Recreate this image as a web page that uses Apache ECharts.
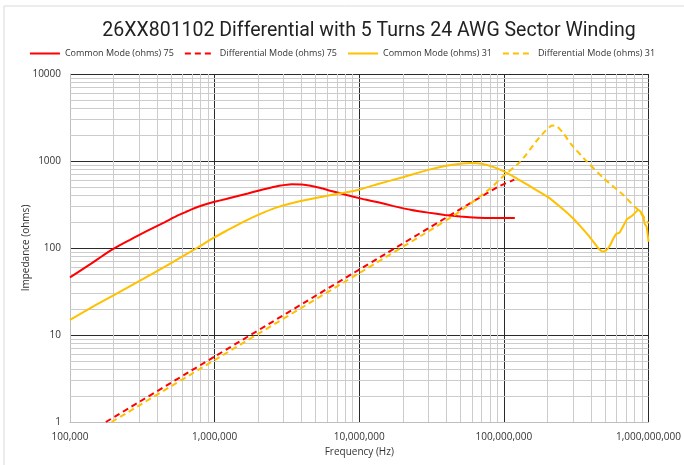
<!DOCTYPE html>
<html><head><meta charset="utf-8">
<script src="https://cdn.jsdelivr.net/npm/echarts@6/dist/echarts.min.js"></script>
<style>html,body{margin:0;padding:0;background:#fff}#c{width:684px;height:465px}</style>
</head><body><div id="c"></div>
<script>
var titleText = '26XX801102 Differential with 5 Turns 24 AWG Sector Winding';
var seriesNames = ['Common Mode (ohms) 75','Differential Mode (ohms) 75','Common Mode (ohms) 31','Differential Mode (ohms) 31'];

var cm75 = [[1e5,46],[1.4e5,66],[1.8e5,88],[2.2e5,107],[2.6e5,124],[3e5,141],[3.7e5,168],[4.57e5,200],[5.4e5,231],[6.3e5,259],[7e5,280],[7.7e5,298],[8.8e5,320],[1e6,340],[1.2e6,366],[1.4e6,390],[1.7e6,424],[2e6,456],[2.4e6,490],[2.8e6,518],[3.4e6,540],[4e6,537],[4.6e6,520],[5.4e6,490],[6.3e6,456],[7.4e6,425],[9e6,390],[1.1e7,360],[1.35e7,335],[1.7e7,305],[2.3e7,273],[3e7,255],[3.9e7,240],[5e7,230],[6.6e7,223],[8.5e7,221],[1.19e8,221]];
var dm75 = [[1.77e5,1],[1e6,5.65],[1e7,56.5],[1.35e7,76],[5e7,280],[9e7,500],[1.18e8,610]];
var cm31 = [[1e5,14.9],[1.5e5,22],[2.7e5,37.6],[5e5,67],[7.7e5,102],[1e6,133],[1.2e6,157],[1.4e6,180],[1.7e6,212],[2e6,240],[2.6e6,287],[3.4e6,327],[4.9e6,373],[7.4e6,425],[9.8e6,464],[1.35e7,545],[2e7,650],[3e7,790],[4e7,880],[5e7,930],[5.9e7,950],[7e7,930],[8.5e7,850],[1e8,760],[1.25e8,620],[1.53e8,507],[2e8,389],[2.6e8,273],[3e8,220],[3.4e8,176],[3.9e8,135],[4.4e8,104],[4.7e8,93],[4.9e8,91],[5.1e8,94],[5.4e8,106],[5.7e8,128],[6e8,146],[6.3e8,150],[6.7e8,180],[7.1e8,215],[7.4e8,225],[7.8e8,240],[8.5e8,273],[8.8e8,262],[9.2e8,229],[9.4e8,190],[9.7e8,176],[1e9,118]];
var dm31 = [[1.94e5,1],[1e6,5.15],[1e7,51.5],[3e7,155],[5e7,265],[8e7,480],[1e8,680],[1.3e8,982],[1.7e8,1740],[1.95e8,2250],[2.15e8,2560],[2.33e8,2510],[2.6e8,2050],[2.88e8,1597],[3.75e8,982],[4.9e8,632],[6.7e8,406],[8e8,299],[8.5e8,275],[9.4e8,219],[1e9,192]];

var xDecades = [1e5,1e6,1e7,1e8];
var yDecades = [1,10,100,1000];
var minorMult = [2,3,4,5,6,7,8,9];

var minorLines = [];
xDecades.forEach(function(d){ minorMult.forEach(function(m){ minorLines.push({xAxis: d*m}); }); });
yDecades.forEach(function(d){ minorMult.forEach(function(m){ minorLines.push({yAxis: d*m}); }); });

var RED = '#ff0000', YEL = '#ffc000';
function mk(name, data, color, dashed){
  return {name:name, type:'line', data:data, smooth:0.15, symbol:'none', showSymbol:false, z:5,
    lineStyle:{color:color, width:2, type: dashed ? [6,4] : 'solid'}, itemStyle:{color:color}};
}

var chart = echarts.init(document.getElementById('c'), null, {renderer:'canvas'});
chart.setOption({
  animation:false,
  backgroundColor:'#fff',
  title:{text:titleText, left:364, textAlign:'center', top:16,
    textStyle:{fontFamily:'Roboto', fontSize:19.5, fontWeight:'normal', color:'#222'}},
  legend:{top:44, left:'center', itemWidth:30, itemHeight:3, itemGap:10,
    itemStyle:{opacity:0},
    textStyle:{fontFamily:'Open Sans', fontSize:9, color:'#333'},
    data: seriesNames},
  grid:{left:70, right:32, top:74, bottom:43, containLabel:false},
  graphic:[{type:'rect', shape:{x:4, y:6, width:700, height:480}, style:{fill:'none', stroke:'#d9d9d9', lineWidth:1}, z:-1}],
  xAxis:{type:'log', logBase:10, min:1e5, max:1e9,
    name:'Frequency (Hz)', nameLocation:'middle', nameGap:25, nameMoveOverlap:false,
    nameTextStyle:{fontFamily:'Open Sans', fontSize:10, color:'#333'},
    axisLine:{show:true, lineStyle:{color:'#bfbfbf', width:1}},
    axisTick:{show:false},
    axisLabel:{fontFamily:'Open Sans', fontSize:10, color:'#333', margin:10,
      formatter:function(v){ return Math.round(v).toLocaleString('en-US'); }},
    splitLine:{show:true, showMinLine:false, lineStyle:{color:'#2a2a2a', width:1}}},
  yAxis:{type:'log', logBase:10, min:1, max:10000,
    name:'Impedance (ohms)', nameLocation:'middle', nameGap:39, nameMoveOverlap:false,
    nameTextStyle:{fontFamily:'Open Sans', fontSize:10, color:'#333'},
    axisLine:{show:true, lineStyle:{color:'#bfbfbf', width:1}},
    axisTick:{show:false},
    axisLabel:{fontFamily:'Open Sans', fontSize:10, color:'#333', margin:9,
      formatter:function(v){ return String(Math.round(v)); }},
    splitLine:{show:true, showMinLine:false, lineStyle:{color:'#2a2a2a', width:1}}},
  series:[
    {name:'grid', type:'line', data:[], z:1, silent:true,
      markLine:{silent:true, symbol:['none','none'], label:{show:false}, animation:false,
        lineStyle:{color:'#cccccc', width:1, type:'solid'}, emphasis:{disabled:true}, data:minorLines}},
    mk(seriesNames[0], cm75, RED, false),
    mk(seriesNames[1], dm75, RED, true),
    mk(seriesNames[2], cm31, YEL, false),
    mk(seriesNames[3], dm31, YEL, true)
  ]
});
</script></body></html>
